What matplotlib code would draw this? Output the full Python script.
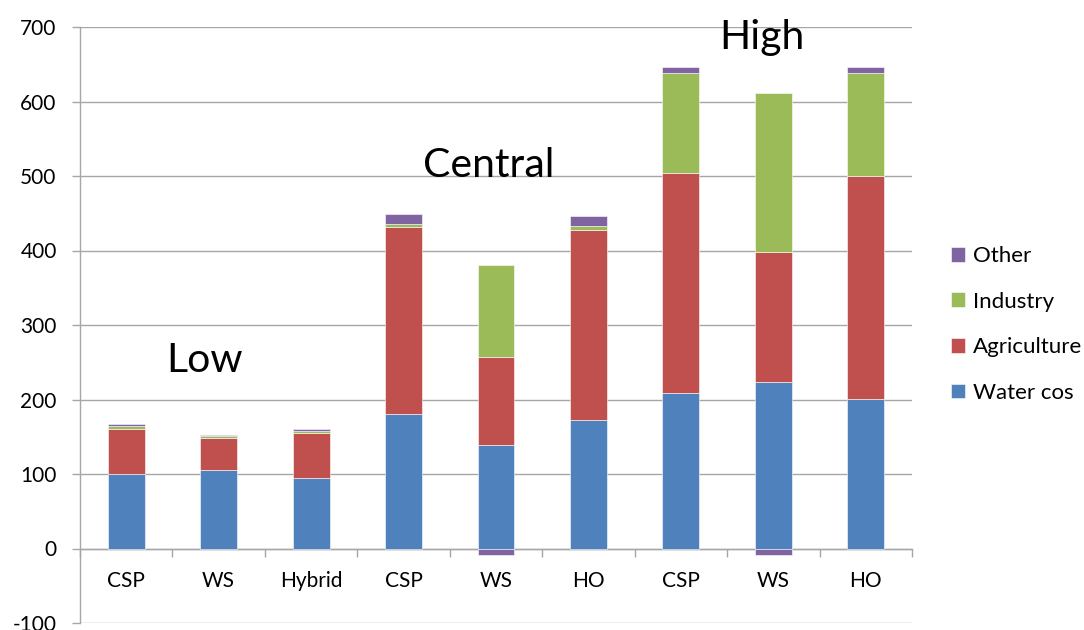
import matplotlib
matplotlib.use("Agg")
import matplotlib.pyplot as plt
import numpy as np

plt.rcParams['font.family'] = ['Lato', 'DejaVu Sans']
plt.rcParams['axes.unicode_minus'] = False

categories = ["CSP", "WS", "Hybrid", "CSP", "WS", "HO", "CSP", "WS", "HO"]
water = [100, 106, 95, 180, 139, 173, 209, 224, 201]
agriculture = [60, 42, 60, 251, 118, 255, 295, 174, 299]
industry = [4, 3, 3, 5, 124, 5, 134, 214, 138]
other = [3, 2, 3, 13, -9, 13, 8, -9, 8]

series_names = ["Water cos", "Agriculture", "Industry", "Other"]
series_colors = ["#4F81BD", "#C0504D", "#9BBB59", "#8064A2"]

group_labels = ["Low", "Central", "High"]
group_label_pos = [(0.85, 252), (3.92, 514), (6.88, 686)]

grid_color = "#A6A6A6"

fig = plt.figure(figsize=(10.84, 6.30), dpi=100)
ax = fig.add_axes([80 / 1084, 1 - 623 / 630, (912 - 80) / 1084, (623 - 27) / 630])

x = np.arange(len(categories))
pos_base = np.zeros(len(categories))
neg_base = np.zeros(len(categories))
handles = []
for name, vals, color in zip(series_names, [water, agriculture, industry, other], series_colors):
    vals = np.array(vals, dtype=float)
    bottoms = np.where(vals >= 0, pos_base, neg_base)
    h = ax.bar(x, vals, width=0.40, bottom=bottoms, color=color,
               edgecolor="white", linewidth=0.4, label=name, zorder=3)
    handles.append(h)
    pos_base += np.where(vals >= 0, vals, 0)
    neg_base += np.where(vals < 0, vals, 0)

ax.set_xlim(-0.5, len(categories) - 0.5)
ax.set_ylim(-100, 700)
ax.set_yticks(np.arange(-100, 701, 100))
ax.yaxis.grid(True, color=grid_color, linewidth=1.0, zorder=0)
ax.set_axisbelow(True)

for side in ["top", "right"]:
    ax.spines[side].set_visible(False)
ax.spines["left"].set_color(grid_color)
ax.spines["left"].set_linewidth(1.0)
ax.spines["bottom"].set_position(("data", 0))
ax.spines["bottom"].set_color(grid_color)
ax.spines["bottom"].set_linewidth(1.0)

# category boundaries carry the tick marks, centres carry the labels
ax.set_xticks(np.arange(-0.5, len(categories), 1.0))
ax.set_xticklabels([])
ax.set_xticks(x, minor=True)
ax.set_xticklabels(categories, minor=True)
ax.tick_params(axis="x", which="major", direction="out", length=5.5,
               color=grid_color, width=1.0)
ax.tick_params(axis="x", which="minor", length=0, pad=16, labelsize=15)
ax.tick_params(axis="y", direction="out", length=5.8, color=grid_color,
               width=1.0, pad=11, labelsize=15)

for label, (gx, gy) in zip(group_labels, group_label_pos):
    ax.text(gx, gy, label, ha="center", va="center", fontsize=29.5, zorder=5)

fig.legend(handles[::-1], series_names[::-1], loc="center left",
           bbox_to_anchor=(951 / 1084, 1 - 324.5 / 630), frameon=False,
           fontsize=16, handlelength=0.65, handleheight=0.65,
           handletextpad=0.35, labelspacing=1.15, borderpad=0, borderaxespad=0)

fig.savefig("out.png", dpi=100)
